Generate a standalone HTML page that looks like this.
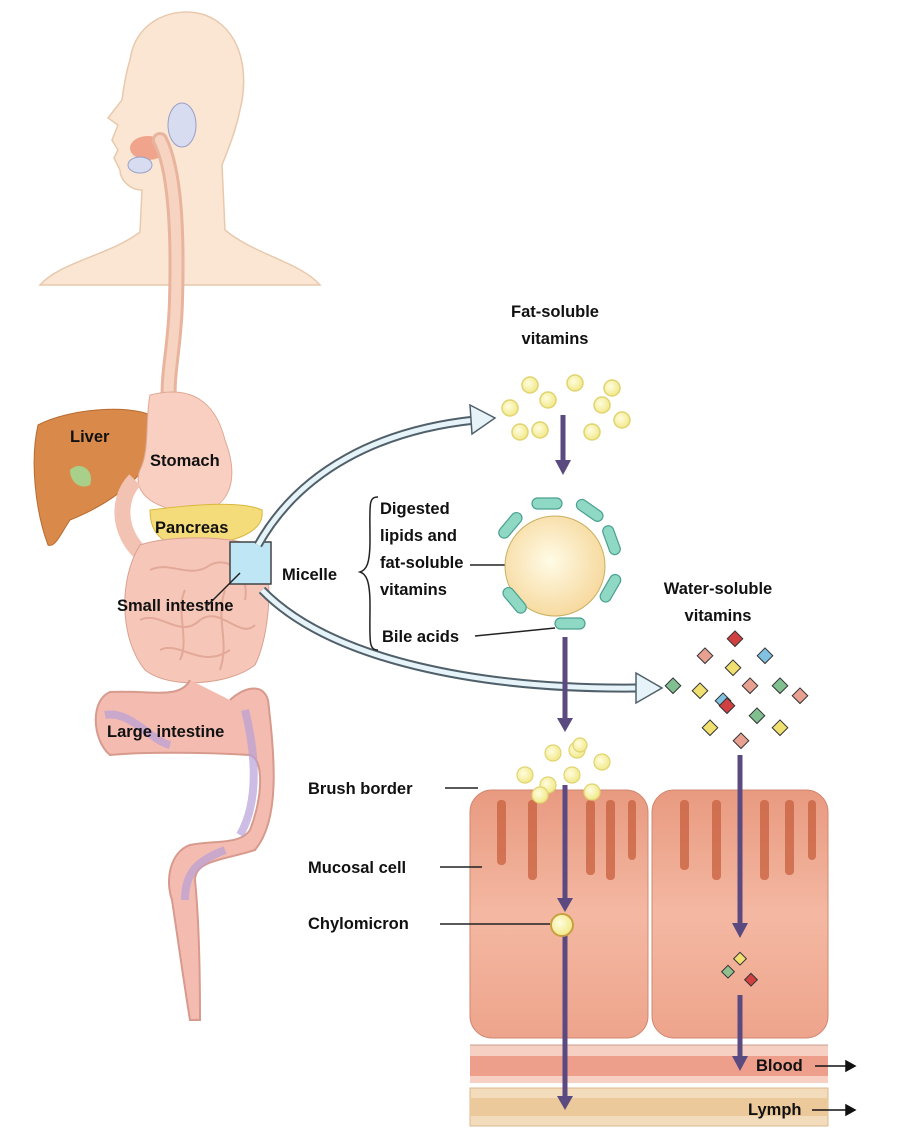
<!DOCTYPE html>
<html><head><meta charset="utf-8"><style>
html,body{margin:0;padding:0;background:#fff;}
svg{display:block;}
text{font-family:"Liberation Sans",sans-serif;font-weight:bold;fill:#111;font-size:16.5px;}
</style></head><body>
<svg width="917" height="1147" viewBox="0 0 917 1147" xmlns="http://www.w3.org/2000/svg">
<defs>
<linearGradient id="cell" x1="0" y1="0" x2="0" y2="1"><stop offset="0" stop-color="#e89a80"/><stop offset="0.5" stop-color="#f4b8a2"/><stop offset="1" stop-color="#eea48c"/></linearGradient>
<radialGradient id="mic" cx="0.45" cy="0.45" r="0.6"><stop offset="0" stop-color="#fffbe6"/><stop offset="1" stop-color="#f6d79a"/></radialGradient>
<radialGradient id="yb" cx="0.4" cy="0.4" r="0.6"><stop offset="0" stop-color="#fffde0"/><stop offset="1" stop-color="#f2e98a"/></radialGradient>
</defs>
<path d="M130,60 C135,20 175,5 205,15 C240,28 250,70 240,110 C236,130 228,150 222,165 L225,230 C255,255 300,262 320,285 L40,285 C60,262 110,255 140,232 L142,190 C130,190 120,180 120,170 L114,158 L118,150 L112,140 L118,125 L108,118 L122,100 C124,85 126,72 130,60 Z" fill="#fae6d2" stroke="#e8c9ad" stroke-width="1.5"/>
<ellipse cx="182" cy="125" rx="14" ry="22" fill="#d8dcf0" stroke="#9aa0c8"/>
<ellipse cx="148" cy="148" rx="18" ry="12" fill="#f1a48c"/>
<ellipse cx="140" cy="165" rx="12" ry="8" fill="#d8dcf0" stroke="#9aa0c8"/>
<path d="M160,140 C175,170 178,230 176,300 C175,350 165,380 170,410" fill="none" stroke="#e9b49e" stroke-width="16" stroke-linecap="round"/>
<path d="M160,140 C175,170 178,230 176,300 C175,350 165,380 170,410" fill="none" stroke="#f7d3c2" stroke-width="10" stroke-linecap="round"/>
<path d="M38,425 C70,408 130,405 150,415 L160,440 C150,470 120,500 70,520 C60,535 55,548 48,545 C35,510 30,460 38,425 Z" fill="#d98a4a" stroke="#b86a30"/>
<path d="M70,470 C80,460 95,470 90,485 C80,490 70,482 70,470Z" fill="#a8d08a"/>
<path d="M150,395 C190,385 215,400 225,440 C240,480 230,510 195,512 C160,512 130,495 140,470 C150,450 145,420 150,395 Z" fill="#f8cfc0" stroke="#e0a894"/>
<path d="M150,510 C190,505 240,500 262,510 C265,530 240,542 200,545 C170,548 150,540 150,510 Z" fill="#f5dc7a" stroke="#d9b840"/>
<path d="M135,480 C115,500 118,540 150,560" fill="none" stroke="#f2c2b2" stroke-width="16"/>
<path d="M140,545 C170,535 230,535 262,548 C275,580 268,640 255,665 C230,685 170,690 145,670 C120,640 118,580 140,545 Z" fill="#f6c7b8" stroke="#d9a090"/>
<g fill="none" stroke="#e2a898" stroke-width="2">
<path d="M150,570 C170,560 190,580 210,565 C230,555 250,575 245,600"/>
<path d="M140,620 C160,610 180,640 200,620 C220,605 240,640 255,625"/>
<path d="M160,650 C180,640 200,670 230,650"/>
<path d="M185,590 C175,610 190,640 180,660"/>
<path d="M225,590 C215,620 230,640 220,670"/>
</g>
<path d="M190,680 C180,700 150,690 110,692 C90,700 92,740 110,755 C140,752 200,752 250,755 C265,760 262,800 250,830 C240,845 215,840 190,845 C170,852 165,880 172,900 C178,940 185,990 190,1020 L200,1020 C200,990 200,930 195,880 C195,860 225,860 255,850 C280,820 275,760 268,700 C262,680 240,690 230,700" fill="#f4bcb0" stroke="#d79a8c" stroke-width="2"/>
<path d="M105,715 C130,710 150,740 170,745 M245,710 C255,750 260,800 240,835 M225,850 C200,860 185,870 185,900" fill="none" stroke="#b8a0d8" stroke-width="8" opacity="0.7"/>
<rect x="230" y="542" width="41" height="42" fill="#bfe6f4" stroke="#444" stroke-width="1.5"/>
<line x1="208" y1="605" x2="240" y2="573" stroke="#222" stroke-width="1.5"/>
<path d="M258,545 C300,470 380,430 475,420" fill="none" stroke="#50606a" stroke-width="9"/>
<path d="M258,545 C300,470 380,430 475,420" fill="none" stroke="#e6f3f8" stroke-width="5"/>
<polygon points="470,405 495,418 472,434" fill="#e6f3f8" stroke="#50606a" stroke-width="1.5"/>
<path d="M262,590 C330,660 480,690 640,688" fill="none" stroke="#50606a" stroke-width="9"/>
<path d="M262,590 C330,660 480,690 640,688" fill="none" stroke="#e6f3f8" stroke-width="5"/>
<polygon points="636,673 662,688 636,703" fill="#e6f3f8" stroke="#50606a" stroke-width="1.5"/>
<text x="70" y="442">Liver</text>
<text x="150" y="466">Stomach</text>
<text x="155" y="533">Pancreas</text>
<text x="117" y="611">Small intestine</text>
<text x="107" y="737">Large intestine</text>
<text x="282" y="580">Micelle</text>
<path d="M378,497 C368,497 370,505 370,540 C370,565 366,570 360,572 C366,574 370,580 370,605 C370,640 368,650 378,650" fill="none" stroke="#222" stroke-width="1.5"/>
<text x="380" y="514">Digested</text>
<text x="380" y="541">lipids and</text>
<text x="380" y="568">fat-soluble</text>
<text x="380" y="595">vitamins</text>
<text x="382" y="642">Bile acids</text>
<line x1="470" y1="565" x2="530" y2="565" stroke="#222" stroke-width="1.5"/>
<line x1="475" y1="636" x2="555" y2="628" stroke="#222" stroke-width="1.5"/>
<text x="555" y="317" text-anchor="middle">Fat-soluble</text>
<text x="555" y="344" text-anchor="middle">vitamins</text>
<text x="718" y="594" text-anchor="middle">Water-soluble</text>
<text x="718" y="621" text-anchor="middle">vitamins</text>
<g fill="url(#yb)" stroke="#e0d470" stroke-width="1.5">
<circle cx="530" cy="385" r="8"/><circle cx="575" cy="383" r="8"/><circle cx="510" cy="408" r="8"/><circle cx="548" cy="400" r="8"/><circle cx="602" cy="405" r="8"/>
<circle cx="520" cy="432" r="8"/><circle cx="540" cy="430" r="8"/><circle cx="592" cy="432" r="8"/><circle cx="622" cy="420" r="8"/><circle cx="612" cy="388" r="8"/>
</g>
<circle cx="555" cy="566" r="50" fill="url(#mic)" stroke="#c8b060"/>
<g fill="#8ed8c4" stroke="#4aa090" stroke-width="1.2">
<rect x="532" y="498" width="30" height="11" rx="5.5"/>
<rect x="575" y="505" width="30" height="11" rx="5.5" transform="rotate(35 590 510)"/>
<rect x="597" y="535" width="30" height="11" rx="5.5" transform="rotate(70 612 540)"/>
<rect x="595" y="583" width="30" height="11" rx="5.5" transform="rotate(-60 610 588)"/>
<rect x="555" y="618" width="30" height="11" rx="5.5"/>
<rect x="500" y="595" width="30" height="11" rx="5.5" transform="rotate(50 515 600)"/>
<rect x="495" y="520" width="30" height="11" rx="5.5" transform="rotate(-50 510 525)"/>
</g>
<g stroke="#333" stroke-width="1">
<rect x="730" y="633" width="11" height="11" fill="#d04040" transform="rotate(45 735 638)"/>
<rect x="700" y="650" width="11" height="11" fill="#e8a090" transform="rotate(45 705 655)"/>
<rect x="760" y="650" width="11" height="11" fill="#80c0e0" transform="rotate(45 765 655)"/>
<rect x="728" y="662" width="11" height="11" fill="#f0e070" transform="rotate(45 733 667)"/>
<rect x="668" y="680" width="11" height="11" fill="#80c090" transform="rotate(45 673 685)"/>
<rect x="695" y="685" width="11" height="11" fill="#f0e070" transform="rotate(45 700 690)"/>
<rect x="745" y="680" width="11" height="11" fill="#e8a090" transform="rotate(45 750 685)"/>
<rect x="775" y="680" width="11" height="11" fill="#80c090" transform="rotate(45 780 685)"/>
<rect x="718" y="695" width="11" height="11" fill="#80c0e0" transform="rotate(45 723 700)"/>
<rect x="795" y="690" width="11" height="11" fill="#e8a090" transform="rotate(45 800 695)"/>
<rect x="722" y="700" width="11" height="11" fill="#d04040" transform="rotate(45 727 705)"/>
<rect x="752" y="710" width="11" height="11" fill="#80c090" transform="rotate(45 757 715)"/>
<rect x="705" y="722" width="11" height="11" fill="#f0e070" transform="rotate(45 710 727)"/>
<rect x="775" y="722" width="11" height="11" fill="#f0e070" transform="rotate(45 780 727)"/>
<rect x="736" y="735" width="11" height="11" fill="#e8a090" transform="rotate(45 741 740)"/>
</g>
<rect x="470" y="1045" width="358" height="38" fill="#f6d0c2"/>
<rect x="470" y="1056" width="358" height="20" fill="#ee9f8c"/>
<line x1="470" y1="1045" x2="828" y2="1045" stroke="#c89c8c"/>
<rect x="470" y="1088" width="358" height="38" fill="#f3dcbc" stroke="#d8b890"/>
<rect x="470" y="1098" width="358" height="18" fill="#ecc99a"/>
<rect x="470" y="790" width="178" height="248" rx="22" fill="url(#cell)" stroke="#d08870"/>
<rect x="652" y="790" width="176" height="248" rx="22" fill="url(#cell)" stroke="#d08870"/>
<g fill="#c8603e" opacity="0.75">
<rect x="497" y="800" width="9" height="65" rx="4"/><rect x="528" y="800" width="9" height="80" rx="4"/><rect x="586" y="800" width="9" height="75" rx="4"/><rect x="606" y="800" width="9" height="80" rx="4"/><rect x="628" y="800" width="8" height="60" rx="4"/>
<rect x="680" y="800" width="9" height="70" rx="4"/><rect x="712" y="800" width="9" height="80" rx="4"/><rect x="760" y="800" width="9" height="80" rx="4"/><rect x="785" y="800" width="9" height="75" rx="4"/><rect x="808" y="800" width="8" height="60" rx="4"/>
</g>
<g fill="url(#yb)" stroke="#e0d470" stroke-width="1.2">
<circle cx="525" cy="775" r="8"/><circle cx="553" cy="753" r="8"/><circle cx="577" cy="750" r="8"/><circle cx="602" cy="762" r="8"/><circle cx="548" cy="785" r="8"/>
<circle cx="572" cy="775" r="8"/><circle cx="592" cy="792" r="8"/><circle cx="540" cy="795" r="8"/><circle cx="580" cy="745" r="7"/>
</g>
<g stroke="#5a4a80" stroke-width="5" fill="#5a4a80">
<line x1="563" y1="415" x2="563" y2="462"/><polygon points="555,460 571,460 563,475" stroke="none"/>
<line x1="565" y1="637" x2="565" y2="720"/><polygon points="557,718 573,718 565,732" stroke="none"/>
<line x1="565" y1="785" x2="565" y2="900"/><polygon points="557,898 573,898 565,912" stroke="none"/>
<line x1="565" y1="935" x2="565" y2="1098"/><polygon points="557,1096 573,1096 565,1110" stroke="none"/>
<line x1="740" y1="755" x2="740" y2="925"/><polygon points="732,923 748,923 740,938" stroke="none"/>
<line x1="740" y1="995" x2="740" y2="1058"/><polygon points="732,1056 748,1056 740,1071" stroke="none"/>
</g>
<circle cx="562" cy="925" r="11" fill="url(#yb)" stroke="#c8a040" stroke-width="2"/>
<g stroke="#333" stroke-width="1">
<rect x="736" y="954" width="9" height="9" fill="#f0e070" transform="rotate(45 740 958)"/>
<rect x="724" y="967" width="9" height="9" fill="#90c090" transform="rotate(45 728 971)"/>
<rect x="747" y="975" width="9" height="9" fill="#d04040" transform="rotate(45 751 979)"/>
</g>
<text x="308" y="794">Brush border</text>
<line x1="445" y1="788" x2="478" y2="788" stroke="#222" stroke-width="1.5"/>
<text x="308" y="873">Mucosal cell</text>
<line x1="440" y1="867" x2="482" y2="867" stroke="#222" stroke-width="1.5"/>
<text x="308" y="929">Chylomicron</text>
<line x1="440" y1="924" x2="550" y2="924" stroke="#222" stroke-width="1.5"/>
<text x="756" y="1071">Blood</text>
<text x="748" y="1115">Lymph</text>
<g stroke="#111" stroke-width="1.5" fill="#111">
<line x1="815" y1="1066" x2="848" y2="1066"/><polygon points="846,1061 855,1066 846,1071"/>
<line x1="812" y1="1110" x2="848" y2="1110"/><polygon points="846,1105 855,1110 846,1115"/>
</g>
</svg>
</body></html>
